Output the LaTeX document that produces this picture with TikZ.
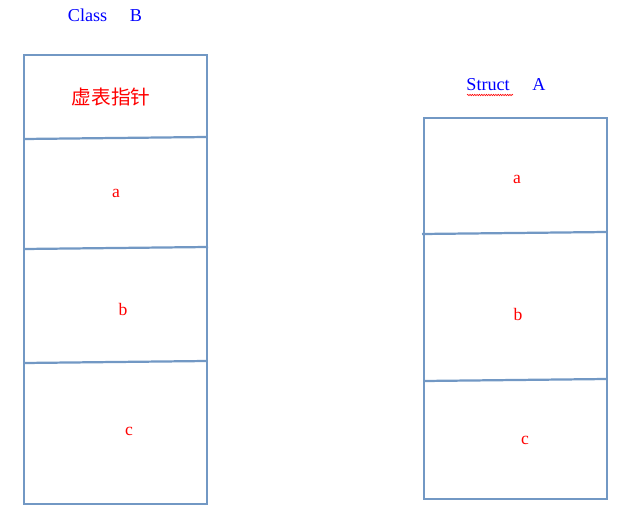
\documentclass[tikz,border=0pt]{standalone}
\usepackage{fontspec}
\setmainfont{Liberation Serif}
\newfontfamily\cjk{Noto Sans CJK SC}
\usetikzlibrary{decorations.pathmorphing}

\begin{document}
\begin{tikzpicture}[x=0.03cm,y=-0.03cm]

		\definecolor{boxBlue}{RGB}{114,152,196}
		\tikzset{
			cell/.style={draw=boxBlue, line width=1.9pt},
			field/.style={red, font=\fontsize{15}{17}\selectfont},
			title/.style={blue, font=\fontsize{15.5}{18}\selectfont}
		}

		\useasboundingbox (0,0) rectangle (618,513);

		%class B
		\node[title] (classB) at (105,15) {Class\quad\ B};
		\draw[cell] (24,55) rectangle (207,504);
		\draw[cell] (24,139) -- (207,137);
		\draw[cell] (24,249) -- (208,247);
		\draw[cell] (24,363) -- (207,361);
			\node[red, font=\cjk\fontsize{16.8}{20}\selectfont] (vptr) at (111,97) {虚表指针};
			\node[field] (fieldBa) at (116,193) {a};
			\node[field] (fieldBb) at (123,309) {b};
			\node[field] (fieldBc) at (129,431) {c};

		%struct A
		\node[title] (structA) at (506,85) {Struct\quad\ A};
		\draw[red, line width=0.5pt, decorate,
			decoration={snake, segment length=2pt, amplitude=0.6pt}]
			(467,95) -- (513,95);
		\draw[cell] (424,118) rectangle (607,499);
		\draw[cell] (422,234) -- (607,232);
		\draw[cell] (424,381) -- (607,379);
			\node[field] (fieldAa) at (517,179) {a};
			\node[field] (fieldAb) at (518,314) {b};
			\node[field] (fieldAc) at (525,440) {c};

	\end{tikzpicture}
\end{document}
